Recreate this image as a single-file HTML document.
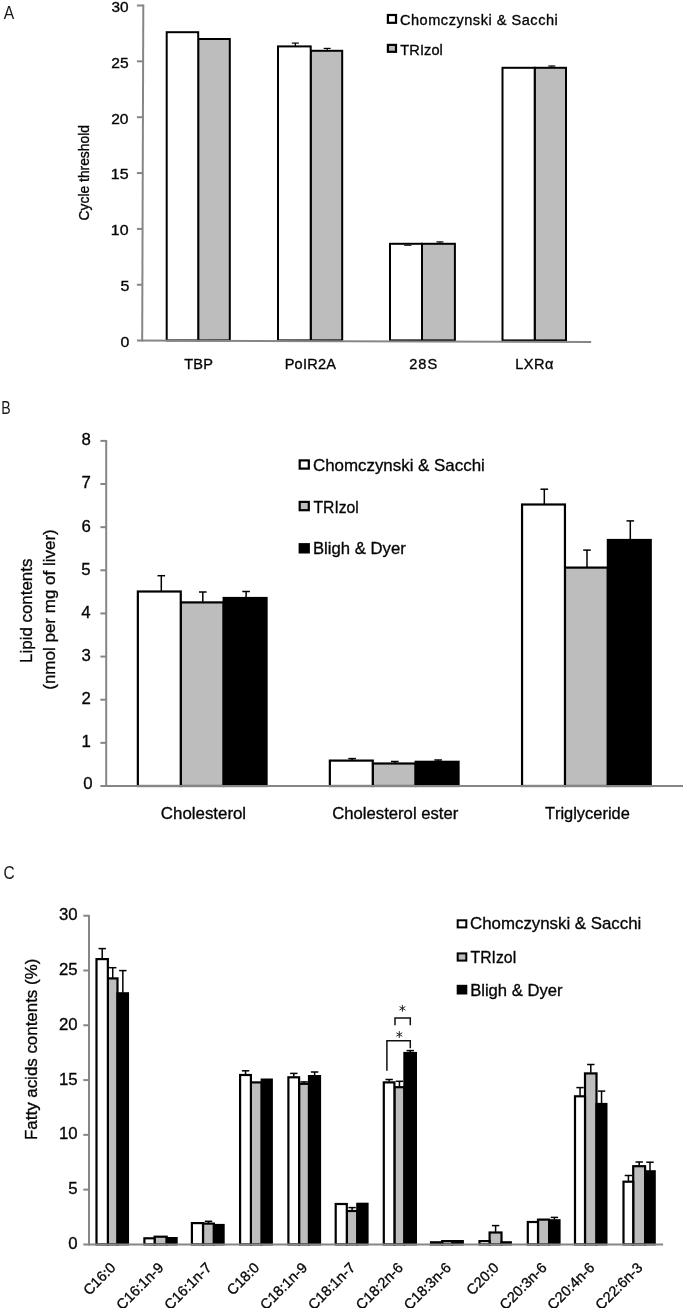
<!DOCTYPE html>
<html><head><meta charset="utf-8"><title>Figure</title>
<style>html,body{margin:0;padding:0;background:#fff}svg{display:block;filter:grayscale(1)}text{font-family:"Liberation Sans",sans-serif;stroke:#050505;stroke-width:0.32px;font-kerning:none;white-space:pre}</style></head><body>
<svg width="685" height="1308" viewBox="0 0 685 1308">
<rect width="685" height="1308" fill="#fff"/>
<text transform="translate(3.87 18.50) scale(0.8713 1)" font-size="18.0" letter-spacing="0.000" fill="#1a1a1a" style="stroke:none">A</text>
<text transform="translate(1.24 413.50) scale(0.7829 1)" font-size="18.0" letter-spacing="0.000" fill="#1a1a1a" style="stroke:none">B</text>
<text transform="translate(3.51 878.70) scale(0.8597 1)" font-size="18.0" letter-spacing="0.000" fill="#1a1a1a" style="stroke:none">C</text>
<rect x="198.20" y="39.00" width="31.60" height="301.40" fill="#bdbdbd" stroke="#000" stroke-width="2.0"/>
<rect x="166.70" y="32.20" width="31.50" height="308.20" fill="#fff" stroke="#000" stroke-width="2.0"/>
<rect x="310.70" y="50.80" width="31.50" height="289.60" fill="#bdbdbd" stroke="#000" stroke-width="2.0"/>
<rect x="278.00" y="46.40" width="32.70" height="294.00" fill="#fff" stroke="#000" stroke-width="2.0"/>
<line x1="295.35" y1="45.90" x2="295.35" y2="43.10" stroke="#000" stroke-width="1.2" stroke-linecap="butt"/>
<line x1="291.85" y1="43.10" x2="298.85" y2="43.10" stroke="#000" stroke-width="1.2" stroke-linecap="butt"/>
<line x1="327.15" y1="50.30" x2="327.15" y2="48.40" stroke="#000" stroke-width="1.2" stroke-linecap="butt"/>
<line x1="323.65" y1="48.40" x2="330.65" y2="48.40" stroke="#000" stroke-width="1.2" stroke-linecap="butt"/>
<rect x="422.00" y="243.80" width="32.90" height="96.60" fill="#bdbdbd" stroke="#000" stroke-width="2.0"/>
<rect x="390.00" y="243.80" width="32.00" height="96.60" fill="#fff" stroke="#000" stroke-width="2.0"/>
<line x1="439.95" y1="243.30" x2="439.95" y2="241.90" stroke="#000" stroke-width="1.2" stroke-linecap="butt"/>
<line x1="436.45" y1="241.90" x2="443.45" y2="241.90" stroke="#000" stroke-width="1.2" stroke-linecap="butt"/>
<rect x="534.70" y="67.80" width="31.30" height="272.60" fill="#bdbdbd" stroke="#000" stroke-width="2.0"/>
<rect x="502.50" y="67.80" width="32.20" height="272.60" fill="#fff" stroke="#000" stroke-width="2.0"/>
<line x1="551.85" y1="67.30" x2="551.85" y2="66.00" stroke="#000" stroke-width="1.2" stroke-linecap="butt"/>
<line x1="548.35" y1="66.00" x2="555.35" y2="66.00" stroke="#000" stroke-width="1.2" stroke-linecap="butt"/>
<line x1="404.20" y1="245.30" x2="411.50" y2="245.30" stroke="#000" stroke-width="1.0" stroke-linecap="butt"/>
<line x1="143.30" y1="4.50" x2="142.20" y2="341.60" stroke="#868686" stroke-width="2.0" stroke-linecap="butt"/>
<line x1="137.00" y1="340.60" x2="591.20" y2="341.90" stroke="#868686" stroke-width="2.0" stroke-linecap="butt"/>
<text transform="translate(120.58 347.00) scale(1.1521 1)" font-size="13.8" letter-spacing="0.000" fill="#050505">0</text>
<line x1="136.90" y1="284.75" x2="142.38" y2="284.75" stroke="#868686" stroke-width="2.0" stroke-linecap="butt"/>
<text transform="translate(120.56 291.15) scale(1.1616 1)" font-size="13.8" letter-spacing="0.000" fill="#050505">5</text>
<line x1="136.90" y1="228.90" x2="142.57" y2="228.90" stroke="#868686" stroke-width="2.0" stroke-linecap="butt"/>
<text transform="translate(110.79 235.30) scale(1.1556 1)" font-size="13.8" letter-spacing="0.000" fill="#050505">10</text>
<line x1="136.90" y1="173.05" x2="142.75" y2="173.05" stroke="#868686" stroke-width="2.0" stroke-linecap="butt"/>
<text transform="translate(110.78 179.45) scale(1.1590 1)" font-size="13.8" letter-spacing="0.000" fill="#050505">15</text>
<line x1="136.90" y1="117.20" x2="142.93" y2="117.20" stroke="#868686" stroke-width="2.0" stroke-linecap="butt"/>
<text transform="translate(111.22 123.60) scale(1.1263 1)" font-size="13.8" letter-spacing="0.000" fill="#050505">20</text>
<line x1="136.90" y1="61.35" x2="143.11" y2="61.35" stroke="#868686" stroke-width="2.0" stroke-linecap="butt"/>
<text transform="translate(111.22 67.75) scale(1.1296 1)" font-size="13.8" letter-spacing="0.000" fill="#050505">25</text>
<line x1="136.90" y1="5.50" x2="143.30" y2="5.50" stroke="#868686" stroke-width="2.0" stroke-linecap="butt"/>
<text transform="translate(111.42 11.90) scale(1.1130 1)" font-size="13.8" letter-spacing="0.000" fill="#050505">30</text>
<text transform="translate(184.17 368.60) scale(1.0400 1)" font-size="14.0" letter-spacing="0.230" fill="#050505">TBP</text>
<text transform="translate(284.71 368.60) scale(1.0400 1)" font-size="14.0" letter-spacing="0.201" fill="#050505">PoIR2A</text>
<text transform="translate(409.27 368.60) scale(1.0400 1)" font-size="14.0" letter-spacing="0.959" fill="#050505">28S</text>
<text transform="translate(515.31 368.60) scale(1.0400 1)" font-size="14.0" letter-spacing="0.440" fill="#050505">LXRα</text>
<text transform="translate(88.8 220.40) rotate(-90) scale(0.9897 1.07)" font-size="14.0" fill="#050505">Cycle threshold</text>
<text transform="translate(399.96 24.90) scale(1.0400 1)" font-size="14.0" letter-spacing="0.503" fill="#050505">Chomczynski &amp; Sacchi</text>
<text transform="translate(400.37 54.80) scale(1.0400 1)" font-size="14.0" letter-spacing="0.084" fill="#050505">TRIzol</text>
<rect x="387.90" y="15.00" width="8.10" height="7.80" fill="#fff" stroke="#000" stroke-width="2.2"/>
<rect x="387.90" y="44.90" width="8.10" height="6.90" fill="#bdbdbd" stroke="#000" stroke-width="2.2"/>
<rect x="180.75" y="602.40" width="42.90" height="183.60" fill="#bdbdbd" stroke="#000" stroke-width="2.2"/>
<rect x="137.85" y="591.50" width="42.90" height="194.50" fill="#fff" stroke="#000" stroke-width="2.2"/>
<rect x="223.65" y="598.00" width="42.90" height="188.00" fill="#000" stroke="#000" stroke-width="2.2"/>
<line x1="161.30" y1="590.90" x2="161.30" y2="575.70" stroke="#000" stroke-width="1.5" stroke-linecap="butt"/>
<line x1="157.50" y1="575.70" x2="165.10" y2="575.70" stroke="#000" stroke-width="1.5" stroke-linecap="butt"/>
<line x1="202.80" y1="601.80" x2="202.80" y2="592.00" stroke="#000" stroke-width="1.5" stroke-linecap="butt"/>
<line x1="199.00" y1="592.00" x2="206.60" y2="592.00" stroke="#000" stroke-width="1.5" stroke-linecap="butt"/>
<line x1="246.10" y1="597.40" x2="246.10" y2="591.50" stroke="#000" stroke-width="1.5" stroke-linecap="butt"/>
<line x1="242.30" y1="591.50" x2="249.90" y2="591.50" stroke="#000" stroke-width="1.5" stroke-linecap="butt"/>
<rect x="372.75" y="763.50" width="42.90" height="22.50" fill="#bdbdbd" stroke="#000" stroke-width="2.2"/>
<rect x="329.85" y="760.60" width="42.90" height="25.40" fill="#fff" stroke="#000" stroke-width="2.2"/>
<rect x="415.65" y="761.80" width="42.90" height="24.20" fill="#000" stroke="#000" stroke-width="2.2"/>
<line x1="352.10" y1="760.00" x2="352.10" y2="758.60" stroke="#000" stroke-width="1.5" stroke-linecap="butt"/>
<line x1="348.30" y1="758.60" x2="355.90" y2="758.60" stroke="#000" stroke-width="1.5" stroke-linecap="butt"/>
<line x1="394.80" y1="762.90" x2="394.80" y2="761.50" stroke="#000" stroke-width="1.5" stroke-linecap="butt"/>
<line x1="391.00" y1="761.50" x2="398.60" y2="761.50" stroke="#000" stroke-width="1.5" stroke-linecap="butt"/>
<line x1="438.10" y1="761.20" x2="438.10" y2="760.00" stroke="#000" stroke-width="1.5" stroke-linecap="butt"/>
<line x1="434.30" y1="760.00" x2="441.90" y2="760.00" stroke="#000" stroke-width="1.5" stroke-linecap="butt"/>
<rect x="564.95" y="567.60" width="42.90" height="218.40" fill="#bdbdbd" stroke="#000" stroke-width="2.2"/>
<rect x="522.05" y="504.50" width="42.90" height="281.50" fill="#fff" stroke="#000" stroke-width="2.2"/>
<rect x="607.85" y="540.00" width="42.90" height="246.00" fill="#000" stroke="#000" stroke-width="2.2"/>
<line x1="544.30" y1="503.90" x2="544.30" y2="489.20" stroke="#000" stroke-width="1.5" stroke-linecap="butt"/>
<line x1="540.50" y1="489.20" x2="548.10" y2="489.20" stroke="#000" stroke-width="1.5" stroke-linecap="butt"/>
<line x1="587.00" y1="567.00" x2="587.00" y2="550.10" stroke="#000" stroke-width="1.5" stroke-linecap="butt"/>
<line x1="583.20" y1="550.10" x2="590.80" y2="550.10" stroke="#000" stroke-width="1.5" stroke-linecap="butt"/>
<line x1="630.30" y1="539.40" x2="630.30" y2="520.90" stroke="#000" stroke-width="1.5" stroke-linecap="butt"/>
<line x1="626.50" y1="520.90" x2="634.10" y2="520.90" stroke="#000" stroke-width="1.5" stroke-linecap="butt"/>
<line x1="106.20" y1="439.90" x2="106.20" y2="787.00" stroke="#868686" stroke-width="2.0" stroke-linecap="butt"/>
<line x1="100.40" y1="786.00" x2="683.00" y2="786.00" stroke="#868686" stroke-width="2.0" stroke-linecap="butt"/>
<text x="83.21" y="788.70" font-size="16.8" letter-spacing="0.000" fill="#050505">0</text>
<line x1="100.40" y1="742.86" x2="106.20" y2="742.86" stroke="#868686" stroke-width="2.0" stroke-linecap="butt"/>
<text x="81.48" y="747.26" font-size="16.8" letter-spacing="0.000" fill="#050505">1</text>
<line x1="100.40" y1="699.72" x2="106.20" y2="699.72" stroke="#868686" stroke-width="2.0" stroke-linecap="butt"/>
<text x="81.50" y="704.12" font-size="16.8" letter-spacing="0.000" fill="#050505">2</text>
<line x1="100.40" y1="656.58" x2="106.20" y2="656.58" stroke="#868686" stroke-width="2.0" stroke-linecap="butt"/>
<text x="81.39" y="660.98" font-size="16.8" letter-spacing="0.000" fill="#050505">3</text>
<line x1="100.40" y1="613.44" x2="106.20" y2="613.44" stroke="#868686" stroke-width="2.0" stroke-linecap="butt"/>
<text x="81.15" y="617.84" font-size="16.8" letter-spacing="0.000" fill="#050505">4</text>
<line x1="100.40" y1="570.30" x2="106.20" y2="570.30" stroke="#868686" stroke-width="2.0" stroke-linecap="butt"/>
<text x="81.36" y="574.70" font-size="16.8" letter-spacing="0.000" fill="#050505">5</text>
<line x1="100.40" y1="527.16" x2="106.20" y2="527.16" stroke="#868686" stroke-width="2.0" stroke-linecap="butt"/>
<text x="81.39" y="531.56" font-size="16.8" letter-spacing="0.000" fill="#050505">6</text>
<line x1="100.40" y1="484.02" x2="106.20" y2="484.02" stroke="#868686" stroke-width="2.0" stroke-linecap="butt"/>
<text x="81.50" y="488.42" font-size="16.8" letter-spacing="0.000" fill="#050505">7</text>
<line x1="100.40" y1="440.88" x2="106.20" y2="440.88" stroke="#868686" stroke-width="2.0" stroke-linecap="butt"/>
<text x="81.39" y="445.28" font-size="16.8" letter-spacing="0.000" fill="#050505">8</text>
<text transform="translate(160.84 818.60) scale(1.0036 1)" font-size="16.8" letter-spacing="0.000" fill="#050505">Cholesterol</text>
<text transform="translate(332.25 818.60) scale(0.9932 1)" font-size="16.8" letter-spacing="0.000" fill="#050505">Cholesterol ester</text>
<text transform="translate(544.93 818.60) scale(0.9779 1)" font-size="16.8" letter-spacing="0.000" fill="#050505">Triglyceride</text>
<text transform="translate(31.90 662.89) rotate(-90) scale(1.0070 1)" font-size="16.8" letter-spacing="0.000" fill="#050505">Lipid contents</text>
<text transform="translate(54.60 689.75) rotate(-90) scale(1.0120 1)" font-size="16.8" letter-spacing="0.000" fill="#050505">(nmol per mg of liver)</text>
<text transform="translate(312.94 471.20) scale(1.0067 1)" font-size="16.8" letter-spacing="0.000" fill="#050505">Chomczynski &amp; Sacchi</text>
<text transform="translate(313.45 512.60) scale(0.9354 1)" font-size="16.8" letter-spacing="0.000" fill="#050505">TRIzol</text>
<text transform="translate(312.93 553.90) scale(0.9944 1)" font-size="16.8" letter-spacing="0.000" fill="#050505">Bligh &amp; Dyer</text>
<rect x="299.70" y="460.40" width="9.10" height="8.20" fill="#fff" stroke="#000" stroke-width="2.2"/>
<rect x="299.70" y="501.90" width="9.10" height="8.30" fill="#bdbdbd" stroke="#000" stroke-width="2.2"/>
<rect x="299.70" y="544.20" width="9.10" height="8.20" fill="#000" stroke="#000" stroke-width="2.2"/>
<rect x="107.85" y="978.40" width="9.65" height="266.00" fill="#bdbdbd" stroke="#000" stroke-width="2.2"/>
<rect x="96.50" y="959.10" width="11.35" height="285.30" fill="#fff" stroke="#000" stroke-width="2.2"/>
<rect x="116.40" y="992.20" width="12.65" height="253.20" fill="#000"/>
<line x1="102.22" y1="958.50" x2="102.22" y2="948.60" stroke="#000" stroke-width="1.5" stroke-linecap="butt"/>
<line x1="98.52" y1="948.60" x2="105.92" y2="948.60" stroke="#000" stroke-width="1.5" stroke-linecap="butt"/>
<line x1="112.72" y1="977.80" x2="112.72" y2="967.70" stroke="#000" stroke-width="1.5" stroke-linecap="butt"/>
<line x1="109.02" y1="967.70" x2="116.42" y2="967.70" stroke="#000" stroke-width="1.5" stroke-linecap="butt"/>
<line x1="122.83" y1="992.70" x2="122.83" y2="970.60" stroke="#000" stroke-width="1.5" stroke-linecap="butt"/>
<line x1="119.12" y1="970.60" x2="126.53" y2="970.60" stroke="#000" stroke-width="1.5" stroke-linecap="butt"/>
<rect x="154.60" y="1236.70" width="12.10" height="7.70" fill="#bdbdbd" stroke="#000" stroke-width="2.2"/>
<rect x="144.40" y="1238.30" width="10.20" height="6.10" fill="#fff" stroke="#000" stroke-width="2.2"/>
<rect x="165.60" y="1237.00" width="12.10" height="8.40" fill="#000"/>
<rect x="203.00" y="1223.60" width="10.90" height="20.80" fill="#bdbdbd" stroke="#000" stroke-width="2.2"/>
<rect x="191.90" y="1223.10" width="11.10" height="21.30" fill="#fff" stroke="#000" stroke-width="2.2"/>
<rect x="212.80" y="1223.90" width="11.90" height="21.50" fill="#000"/>
<line x1="208.50" y1="1223.00" x2="208.50" y2="1221.30" stroke="#000" stroke-width="1.5" stroke-linecap="butt"/>
<line x1="204.80" y1="1221.30" x2="212.20" y2="1221.30" stroke="#000" stroke-width="1.5" stroke-linecap="butt"/>
<rect x="250.90" y="1082.40" width="10.80" height="162.00" fill="#bdbdbd" stroke="#000" stroke-width="2.2"/>
<rect x="240.10" y="1075.00" width="10.80" height="169.40" fill="#fff" stroke="#000" stroke-width="2.2"/>
<rect x="260.60" y="1078.50" width="12.30" height="166.90" fill="#000"/>
<line x1="245.55" y1="1074.40" x2="245.55" y2="1070.80" stroke="#000" stroke-width="1.5" stroke-linecap="butt"/>
<line x1="241.85" y1="1070.80" x2="249.25" y2="1070.80" stroke="#000" stroke-width="1.5" stroke-linecap="butt"/>
<rect x="299.10" y="1083.80" width="9.90" height="160.60" fill="#bdbdbd" stroke="#000" stroke-width="2.2"/>
<rect x="288.40" y="1077.30" width="10.70" height="167.10" fill="#fff" stroke="#000" stroke-width="2.2"/>
<rect x="307.90" y="1075.00" width="13.20" height="170.40" fill="#000"/>
<line x1="293.80" y1="1076.70" x2="293.80" y2="1073.40" stroke="#000" stroke-width="1.5" stroke-linecap="butt"/>
<line x1="290.10" y1="1073.40" x2="297.50" y2="1073.40" stroke="#000" stroke-width="1.5" stroke-linecap="butt"/>
<line x1="304.10" y1="1083.20" x2="304.10" y2="1081.90" stroke="#000" stroke-width="1.5" stroke-linecap="butt"/>
<line x1="300.40" y1="1081.90" x2="307.80" y2="1081.90" stroke="#000" stroke-width="1.5" stroke-linecap="butt"/>
<line x1="314.60" y1="1075.50" x2="314.60" y2="1072.00" stroke="#000" stroke-width="1.5" stroke-linecap="butt"/>
<line x1="310.90" y1="1072.00" x2="318.30" y2="1072.00" stroke="#000" stroke-width="1.5" stroke-linecap="butt"/>
<rect x="346.80" y="1211.00" width="10.50" height="33.40" fill="#bdbdbd" stroke="#000" stroke-width="2.2"/>
<rect x="335.70" y="1204.00" width="11.10" height="40.40" fill="#fff" stroke="#000" stroke-width="2.2"/>
<rect x="356.20" y="1202.70" width="12.40" height="42.70" fill="#000"/>
<line x1="352.10" y1="1210.40" x2="352.10" y2="1207.60" stroke="#000" stroke-width="1.5" stroke-linecap="butt"/>
<line x1="348.40" y1="1207.60" x2="355.80" y2="1207.60" stroke="#000" stroke-width="1.5" stroke-linecap="butt"/>
<rect x="394.40" y="1087.20" width="10.00" height="157.20" fill="#bdbdbd" stroke="#000" stroke-width="2.2"/>
<rect x="383.80" y="1082.40" width="10.60" height="162.00" fill="#fff" stroke="#000" stroke-width="2.2"/>
<rect x="403.30" y="1051.90" width="13.70" height="193.50" fill="#000"/>
<line x1="389.15" y1="1081.80" x2="389.15" y2="1079.50" stroke="#000" stroke-width="1.5" stroke-linecap="butt"/>
<line x1="385.45" y1="1079.50" x2="392.85" y2="1079.50" stroke="#000" stroke-width="1.5" stroke-linecap="butt"/>
<line x1="399.45" y1="1086.60" x2="399.45" y2="1081.30" stroke="#000" stroke-width="1.5" stroke-linecap="butt"/>
<line x1="395.75" y1="1081.30" x2="403.15" y2="1081.30" stroke="#000" stroke-width="1.5" stroke-linecap="butt"/>
<line x1="410.25" y1="1052.40" x2="410.25" y2="1050.60" stroke="#000" stroke-width="1.5" stroke-linecap="butt"/>
<line x1="406.55" y1="1050.60" x2="413.95" y2="1050.60" stroke="#000" stroke-width="1.5" stroke-linecap="butt"/>
<rect x="442.20" y="1241.10" width="10.20" height="3.30" fill="#bdbdbd" stroke="#000" stroke-width="2.2"/>
<rect x="431.00" y="1242.30" width="11.20" height="2.10" fill="#fff" stroke="#000" stroke-width="2.2"/>
<rect x="451.30" y="1240.00" width="12.60" height="5.40" fill="#000"/>
<rect x="489.60" y="1232.50" width="11.90" height="11.90" fill="#bdbdbd" stroke="#000" stroke-width="2.2"/>
<rect x="479.50" y="1241.10" width="10.10" height="3.30" fill="#fff" stroke="#000" stroke-width="2.2"/>
<rect x="500.40" y="1241.20" width="11.50" height="4.20" fill="#000"/>
<line x1="495.60" y1="1231.90" x2="495.60" y2="1225.60" stroke="#000" stroke-width="1.5" stroke-linecap="butt"/>
<line x1="491.90" y1="1225.60" x2="499.30" y2="1225.60" stroke="#000" stroke-width="1.5" stroke-linecap="butt"/>
<rect x="538.00" y="1219.60" width="11.10" height="24.80" fill="#bdbdbd" stroke="#000" stroke-width="2.2"/>
<rect x="527.80" y="1222.00" width="10.20" height="22.40" fill="#fff" stroke="#000" stroke-width="2.2"/>
<rect x="548.00" y="1219.20" width="12.60" height="26.20" fill="#000"/>
<line x1="554.40" y1="1219.70" x2="554.40" y2="1217.40" stroke="#000" stroke-width="1.5" stroke-linecap="butt"/>
<line x1="550.70" y1="1217.40" x2="558.10" y2="1217.40" stroke="#000" stroke-width="1.5" stroke-linecap="butt"/>
<rect x="585.00" y="1073.40" width="11.50" height="171.00" fill="#bdbdbd" stroke="#000" stroke-width="2.2"/>
<rect x="575.00" y="1096.30" width="10.00" height="148.10" fill="#fff" stroke="#000" stroke-width="2.2"/>
<rect x="595.40" y="1102.90" width="12.10" height="142.50" fill="#000"/>
<line x1="580.05" y1="1095.70" x2="580.05" y2="1087.60" stroke="#000" stroke-width="1.5" stroke-linecap="butt"/>
<line x1="576.35" y1="1087.60" x2="583.75" y2="1087.60" stroke="#000" stroke-width="1.5" stroke-linecap="butt"/>
<line x1="590.80" y1="1072.80" x2="590.80" y2="1064.50" stroke="#000" stroke-width="1.5" stroke-linecap="butt"/>
<line x1="587.10" y1="1064.50" x2="594.50" y2="1064.50" stroke="#000" stroke-width="1.5" stroke-linecap="butt"/>
<line x1="601.55" y1="1103.40" x2="601.55" y2="1091.10" stroke="#000" stroke-width="1.5" stroke-linecap="butt"/>
<line x1="597.85" y1="1091.10" x2="605.25" y2="1091.10" stroke="#000" stroke-width="1.5" stroke-linecap="butt"/>
<rect x="633.20" y="1166.20" width="11.90" height="78.20" fill="#bdbdbd" stroke="#000" stroke-width="2.2"/>
<rect x="623.50" y="1181.70" width="9.70" height="62.70" fill="#fff" stroke="#000" stroke-width="2.2"/>
<rect x="644.00" y="1170.20" width="11.80" height="75.20" fill="#000"/>
<line x1="628.40" y1="1181.10" x2="628.40" y2="1175.50" stroke="#000" stroke-width="1.5" stroke-linecap="butt"/>
<line x1="624.70" y1="1175.50" x2="632.10" y2="1175.50" stroke="#000" stroke-width="1.5" stroke-linecap="butt"/>
<line x1="639.20" y1="1165.60" x2="639.20" y2="1162.00" stroke="#000" stroke-width="1.5" stroke-linecap="butt"/>
<line x1="635.50" y1="1162.00" x2="642.90" y2="1162.00" stroke="#000" stroke-width="1.5" stroke-linecap="butt"/>
<line x1="650.00" y1="1170.70" x2="650.00" y2="1162.20" stroke="#000" stroke-width="1.5" stroke-linecap="butt"/>
<line x1="646.30" y1="1162.20" x2="653.70" y2="1162.20" stroke="#000" stroke-width="1.5" stroke-linecap="butt"/>
<line x1="89.00" y1="914.90" x2="89.00" y2="1245.40" stroke="#868686" stroke-width="2.0" stroke-linecap="butt"/>
<line x1="83.30" y1="1244.40" x2="663.10" y2="1244.40" stroke="#868686" stroke-width="2.0" stroke-linecap="butt"/>
<text x="68.31" y="1249.00" font-size="16.8" letter-spacing="0.000" fill="#050505">0</text>
<line x1="83.30" y1="1189.62" x2="89.00" y2="1189.62" stroke="#868686" stroke-width="2.0" stroke-linecap="butt"/>
<text x="68.36" y="1194.22" font-size="16.8" letter-spacing="0.000" fill="#050505">5</text>
<line x1="83.30" y1="1134.84" x2="89.00" y2="1134.84" stroke="#868686" stroke-width="2.0" stroke-linecap="butt"/>
<text x="58.97" y="1139.44" font-size="16.8" letter-spacing="0.000" fill="#050505">10</text>
<line x1="83.30" y1="1080.06" x2="89.00" y2="1080.06" stroke="#868686" stroke-width="2.0" stroke-linecap="butt"/>
<text x="59.02" y="1084.66" font-size="16.8" letter-spacing="0.000" fill="#050505">15</text>
<line x1="83.30" y1="1025.28" x2="89.00" y2="1025.28" stroke="#868686" stroke-width="2.0" stroke-linecap="butt"/>
<text x="58.97" y="1029.88" font-size="16.8" letter-spacing="0.000" fill="#050505">20</text>
<line x1="83.30" y1="970.50" x2="89.00" y2="970.50" stroke="#868686" stroke-width="2.0" stroke-linecap="butt"/>
<text x="59.02" y="975.10" font-size="16.8" letter-spacing="0.000" fill="#050505">25</text>
<line x1="83.30" y1="915.72" x2="89.00" y2="915.72" stroke="#868686" stroke-width="2.0" stroke-linecap="butt"/>
<text x="58.97" y="920.32" font-size="16.8" letter-spacing="0.000" fill="#050505">30</text>
<text transform="translate(116.10 1269.00) rotate(-45) translate(-38.13 0)" font-size="14.5" letter-spacing="0.000" fill="#050505">C16:0</text>
<text transform="translate(164.00 1269.00) rotate(-45) translate(-58.96 0)" font-size="14.5" letter-spacing="0.000" fill="#050505">C16:1n-9</text>
<text transform="translate(211.90 1269.00) rotate(-45) translate(-58.92 0)" font-size="14.5" letter-spacing="0.000" fill="#050505">C16:1n-7</text>
<text transform="translate(259.80 1269.00) rotate(-45) translate(-38.13 0)" font-size="14.5" letter-spacing="0.000" fill="#050505">C18:0</text>
<text transform="translate(307.70 1269.00) rotate(-45) translate(-58.96 0)" font-size="14.5" letter-spacing="0.000" fill="#050505">C18:1n-9</text>
<text transform="translate(355.60 1269.00) rotate(-45) translate(-58.92 0)" font-size="14.5" letter-spacing="0.000" fill="#050505">C18:1n-7</text>
<text transform="translate(403.50 1269.00) rotate(-45) translate(-59.01 0)" font-size="14.5" letter-spacing="0.000" fill="#050505">C18:2n-6</text>
<text transform="translate(451.40 1269.00) rotate(-45) translate(-59.01 0)" font-size="14.5" letter-spacing="0.000" fill="#050505">C18:3n-6</text>
<text transform="translate(499.30 1269.00) rotate(-45) translate(-38.13 0)" font-size="14.5" letter-spacing="0.000" fill="#050505">C20:0</text>
<text transform="translate(547.20 1269.00) rotate(-45) translate(-59.01 0)" font-size="14.5" letter-spacing="0.000" fill="#050505">C20:3n-6</text>
<text transform="translate(595.10 1269.00) rotate(-45) translate(-59.01 0)" font-size="14.5" letter-spacing="0.000" fill="#050505">C20:4n-6</text>
<text transform="translate(643.00 1269.00) rotate(-45) translate(-59.01 0)" font-size="14.5" letter-spacing="0.000" fill="#050505">C22:6n-3</text>
<text transform="translate(37.20 1139.99) rotate(-90) scale(1.0069 1)" font-size="16.8" letter-spacing="0.000" fill="#050505">Fatty acids contents (%)</text>
<text transform="translate(470.04 929.40) scale(1.0031 1)" font-size="16.8" letter-spacing="0.000" fill="#050505">Chomczynski &amp; Sacchi</text>
<text transform="translate(470.55 962.50) scale(0.9397 1)" font-size="16.8" letter-spacing="0.000" fill="#050505">TRIzol</text>
<text transform="translate(470.14 995.60) scale(0.9901 1)" font-size="16.8" letter-spacing="0.000" fill="#050505">Bligh &amp; Dyer</text>
<rect x="457.70" y="920.30" width="8.60" height="7.10" fill="#fff" stroke="#000" stroke-width="2.0"/>
<rect x="457.70" y="953.40" width="8.60" height="7.20" fill="#bdbdbd" stroke="#000" stroke-width="2.0"/>
<rect x="457.70" y="985.80" width="8.60" height="7.70" fill="#000" stroke="#000" stroke-width="2.0"/>
<polyline points="386.9,1070.8 386.9,1040.7 410.3,1040.7 410.3,1048.2" fill="none" stroke="#111" stroke-width="1.5"/>
<polyline points="395.0,1025.2 395.0,1017.9 410.3,1017.9 410.3,1025.2" fill="none" stroke="#111" stroke-width="1.5"/>
<line x1="402.40" y1="1004.90" x2="402.40" y2="1011.70" stroke="#111" stroke-width="0.9" stroke-linecap="butt"/>
<line x1="399.46" y1="1006.60" x2="405.34" y2="1010.00" stroke="#111" stroke-width="0.9" stroke-linecap="butt"/>
<line x1="405.34" y1="1006.60" x2="399.46" y2="1010.00" stroke="#111" stroke-width="0.9" stroke-linecap="butt"/>
<line x1="399.30" y1="1031.10" x2="399.30" y2="1037.90" stroke="#111" stroke-width="0.9" stroke-linecap="butt"/>
<line x1="396.36" y1="1032.80" x2="402.24" y2="1036.20" stroke="#111" stroke-width="0.9" stroke-linecap="butt"/>
<line x1="402.24" y1="1032.80" x2="396.36" y2="1036.20" stroke="#111" stroke-width="0.9" stroke-linecap="butt"/>
</svg></body></html>
